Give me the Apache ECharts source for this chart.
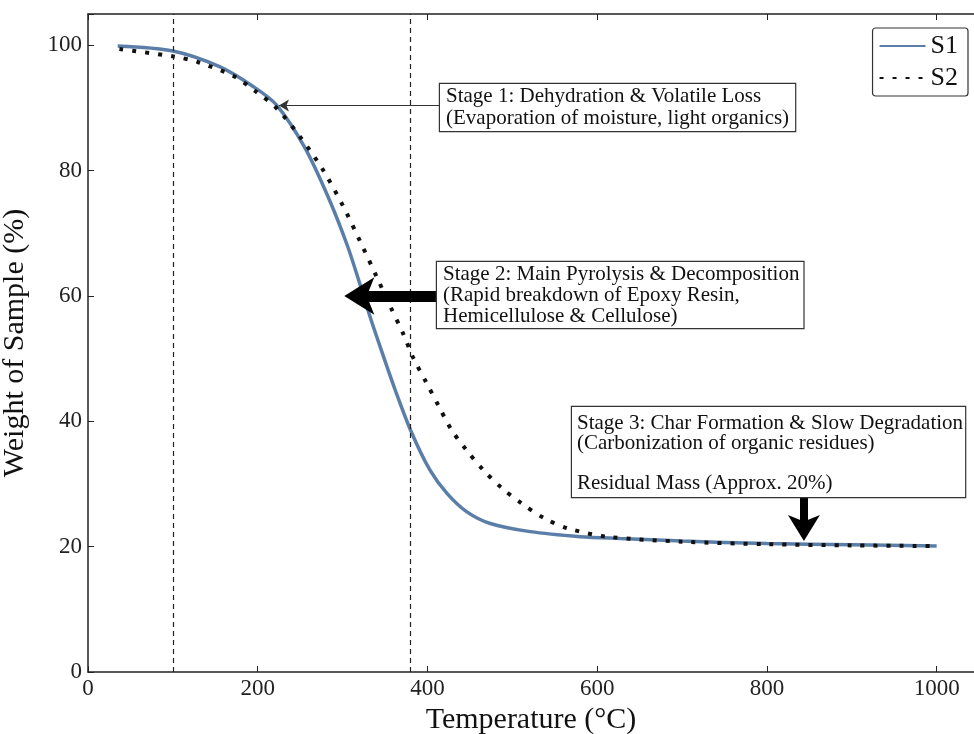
<!DOCTYPE html>
<html>
<head>
<meta charset="utf-8">
<script src="https://cdn.jsdelivr.net/npm/echarts@6/dist/echarts.min.js"></script>
<style>
  html, body { margin: 0; padding: 0; background: #fff; }
  #main { width: 974px; height: 734px; }
</style>
</head>
<body>
<div id="main"></div>
<script>
    // temperatures (°C) and sample weight (%)
    var tempS1 = [35, 100, 155, 195, 222, 255, 283, 306, 322, 334, 344, 362, 381, 403, 423, 446, 474, 521, 580, 627, 700, 800, 900, 1000];
    var weightS1 = [99.9, 99.1, 96.6, 93.4, 90.5, 83.8, 75.8, 67.9, 61.2, 56, 52, 45, 38.3, 32.2, 28.5, 25.6, 23.7, 22.4, 21.6, 21.3, 20.9, 20.5, 20.3, 20.1];

    var tempS2 = [37, 102, 130, 173, 198, 222, 251, 277, 300, 320, 340, 356, 372, 383, 399, 413, 428, 446, 466, 488, 511, 538, 566, 611, 700, 800, 900, 1000];
    var weightS2 = [99.4, 98.2, 97.3, 95, 92.6, 90, 85.2, 80.1, 74.5, 68.9, 63.1, 58.4, 53.8, 50.2, 46.1, 42.5, 38.7, 35.4, 32.2, 29.3, 26.9, 24.5, 22.9, 21.6, 20.8, 20.4, 20.2, 20.1];

    var stageLines = [100, 380];
    var xTicks = [0, 200, 400, 600, 800, 1000];
    var yTicks = [0, 20, 40, 60, 80, 100];

    var serif = '"Liberation Serif", "DejaVu Serif", serif';

    function zip(xs, ys) {
        var out = [];
        for (var i = 0; i < xs.length; i++) {
            out.push([xs[i], ys[i]]);
        }
        return out;
    }

    // arrow = shaft (no symbol) + short invisible segment carrying the head
    function arrow(from, mid, to, width, head) {
        return [
            [
                { coord: from, symbol: 'none', lineStyle: { color: '#000', width: width, type: 'solid' } },
                { coord: mid, symbol: 'none' }
            ],
            [
                { coord: mid, symbol: 'none', lineStyle: { color: '#000', width: 0.01, type: 'solid' } },
                { coord: to, symbol: 'arrow', symbolSize: head }
            ]
        ];
    }

    var myChart = echarts.init(document.getElementById('main'));

    var option = {
        backgroundColor: '#fff',
        animation: false,
        grid: { left: 88, right: 0, top: 14, bottom: 62, outerBoundsMode: 'none', containLabel: false },
        legend: {
            orient: 'vertical',
            right: 6,
            top: 28,
            itemWidth: 46,
            itemHeight: 14,
            itemGap: 6,
            padding: [5, 10, 5, 6],
            borderColor: '#333',
            borderWidth: 1.2,
            borderRadius: 3,
            itemStyle: { opacity: 0 },
            textStyle: { fontFamily: serif, fontSize: 26, color: '#111' },
            data: ['S1', 'S2']
        },
        xAxis: [{
            type: 'value',
            min: 0,
            max: 1044,
            interval: 200,
            name: 'Temperature (°C)',
            nameLocation: 'middle',
            nameGap: 30,
            nameTextStyle: { fontFamily: serif, fontSize: 30, color: '#111' },
            axisLine: { lineStyle: { color: '#222', width: 1.5 } },
            axisTick: { inside: true, length: 6, lineStyle: { color: '#222' } },
            axisLabel: {
                fontFamily: serif, fontSize: 23, color: '#222', margin: 5,
                formatter: function (v) { return xTicks.indexOf(v) >= 0 ? v : ''; }
            },
            splitLine: { show: false }
        }, {
            type: 'value',
            position: 'top',
            min: 0,
            max: 1044,
            interval: 200,
            axisLine: { lineStyle: { color: '#222', width: 1.5 } },
            axisTick: { inside: true, length: 6, lineStyle: { color: '#222' } },
            axisLabel: { show: false },
            splitLine: { show: false }
        }],
        yAxis: {
            type: 'value',
            min: 0,
            max: 105,
            interval: 20,
            name: 'Weight of Sample (%)',
            nameLocation: 'middle',
            nameGap: 58,
            nameTextStyle: { fontFamily: serif, fontSize: 30, color: '#111' },
            axisLine: { show: true, lineStyle: { color: '#222', width: 1.5 } },
            axisTick: { show: true, inside: true, length: 6, lineStyle: { color: '#222' } },
            axisLabel: {
                fontFamily: serif, fontSize: 23, color: '#222', margin: 6,
                formatter: function (v) { return yTicks.indexOf(v) >= 0 ? v : ''; }
            },
            splitLine: { show: false }
        },
        series: [{
            name: 'S1',
            type: 'line',
            smooth: 0.3,
            symbol: 'none',
            z: 2,
            data: zip(tempS1, weightS1),
            itemStyle: { color: '#5b7ea9' },
            lineStyle: { color: '#5b7ea9', width: 3.5 },
            markLine: {
                silent: true,
                symbol: 'none',
                label: { show: false },
                lineStyle: { color: '#222', type: [5, 4], width: 1.2 },
                data: stageLines.map(function (t) { return { xAxis: t }; })
            }
        }, {
            name: 'S2',
            type: 'line',
            smooth: 0.3,
            symbol: 'none',
            z: 3,
            data: zip(tempS2, weightS2),
            itemStyle: { color: '#111' },
            lineStyle: { color: '#111', width: 4, type: [4, 9], cap: 'butt' },
            markLine: {
                silent: true,
                label: { show: false },
                data: [
                    [
                        { coord: [414, 90.4], symbol: 'none', lineStyle: { color: '#333', width: 1, type: 'solid' } },
                        { coord: [225, 90.4], symbol: 'arrow', symbolSize: [9, 10] }
                    ]
                ].concat(
                    arrow([410, 60], [322, 60], [302, 60], 11, [28, 30]),
                    arrow([843.6, 27.8], [843.6, 23.2], [843.6, 20.9], 8, [24, 26])
                )
            }
        }]
    };

    myChart.setOption(option);

    // annotation boxes
    var boxStyle = {
        fontFamily: serif,
        fontSize: 21,
        fill: '#111',
        backgroundColor: '#fff',
        borderColor: '#333',
        borderWidth: 1.2,
        align: 'left',
        verticalAlign: 'top'
    };

    function box(x, y, text, lineHeight, padding) {
        return {
            type: 'text',
            x: x,
            y: y,
            z: 100,
            style: Object.assign({}, boxStyle, { text: text, lineHeight: lineHeight, padding: padding })
        };
    }

    myChart.setOption({
        graphic: [
            box(440, 84, 'Stage 1: Dehydration & Volatile Loss\n(Evaporation of moisture, light organics)', 21.5, [2, 6, 2, 6]),
            box(437, 262, 'Stage 2: Main Pyrolysis & Decomposition\n(Rapid breakdown of Epoxy Resin,\nHemicellulose & Cellulose)', 21, [2, 4, 1, 6]),
            box(572, 407, 'Stage 3: Char Formation & Slow Degradation\n(Carbonization of organic residues)\n\nResidual Mass (Approx. 20%)', 20, [6, 2, 4, 5])
        ]
    });
</script>
</body>
</html>
